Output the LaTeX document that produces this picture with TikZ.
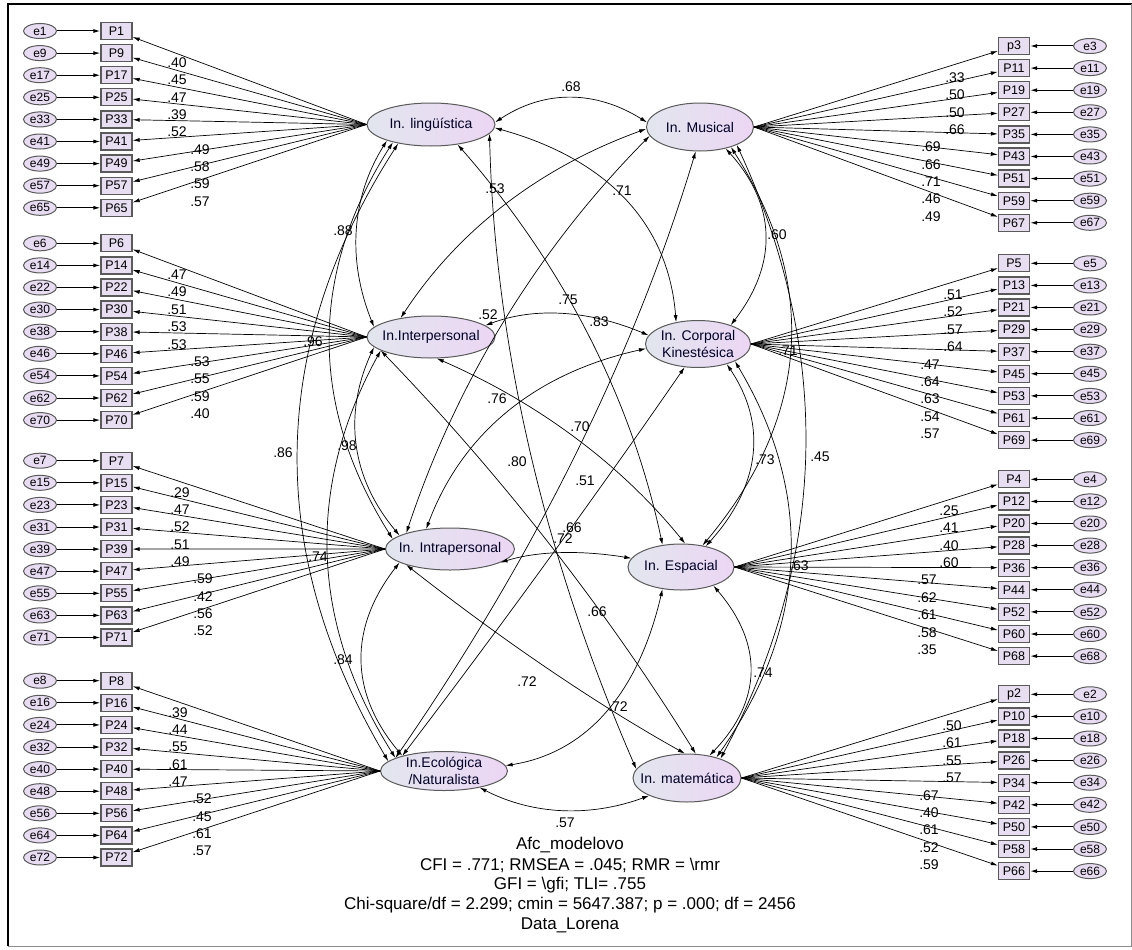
\documentclass[tikz,border=0pt]{standalone}
\usepackage{fontspec}
\setmainfont{Liberation Sans}
\usetikzlibrary{shapes.geometric,arrows.meta,calc}
\definecolor{boxfill}{RGB}{232,222,242}
\definecolor{errfill}{RGB}{232,220,242}
\definecolor{latL}{RGB}{226,230,238}
\definecolor{latR}{RGB}{236,214,244}
\definecolor{edgec}{RGB}{90,90,90}
\tikzset{
 ind/.style={rectangle, draw=edgec, line width=1.3pt, fill=boxfill, minimum width=31pt, minimum height=17pt, inner sep=0pt, font=\fontsize{12.5}{12.5}\selectfont},
 err/.style={ellipse, draw=edgec, line width=1pt, fill=errfill, minimum width=33pt, minimum height=15pt, inner sep=0pt, font=\fontsize{12}{12}\selectfont},
 lat/.style={ellipse, draw=edgec, line width=1pt, left color=latL, right color=latR, inner sep=0pt},
 lattext/.style={font=\fontsize{14}{16.5}\selectfont, align=center, text=black!85!blue, inner sep=0pt},
 reg/.style={line width=0.7pt, -{Latex[length=7pt,width=4pt]}},
 ereg/.style={line width=1pt, -{Latex[length=7pt,width=4pt]}},
 covst/.style={line width=0.7pt, {Latex[length=7pt,width=4pt]}-{Latex[length=7pt,width=4pt]}},
 lbl/.style={font=\fontsize{14}{14}\selectfont, inner sep=0pt},
 fitline/.style={font=\fontsize{17}{17}\selectfont, inner sep=0pt},
}
% #1 factor anchor, #2 y0, #3 box x, #4 err x, #5 label x first, #6 label x rest, #7 count first, #8 list
\newcommand{\mblock}[8]{%
 \foreach \p/\e/\v [count=\k from 0] in {#8} {
   \pgfmathsetmacro{\yy}{#2+22.1*\k}
   \pgfmathsetmacro{\ly}{#2+31.5+17.35*\k}
   \pgfmathsetmacro{\lx}{ifthenelse(\k<#7,#5,#6)}
   \node[ind] (b\p) at (#3,\yy) {\p};
   \node[err] (\e) at (#4,\yy) {\e};
   \draw[ereg] (\e) -- (b\p);
   \draw[reg] (#1) -- (b\p);
   \node[lbl] at (\lx,\ly) {\v};
 }}
% covariance arc: start, end, through point
\newcommand{\cov}[3]{%
  \path (#1) coordinate (qa);
  \path (#2) coordinate (qb);
  \path ($2*(#3)-0.5*(qa)-0.5*(qb)$) coordinate (qq);
  \draw[covst] (#1) .. controls ($(qa)!0.6667!(qq)$) and ($(qb)!0.6667!(qq)$) .. (#2);
}
\begin{document}
\begin{tikzpicture}[x=1pt,y=-1pt]
\useasboundingbox (0,0) rectangle (1132,950);
\fill[white] (0,0) rectangle (1132,950);
\draw[line width=1.5pt] (1132,4) -- (8,4) -- (8,946);
\draw[line width=1pt, black!45] (8,946) -- (1131,946) -- (1131,4);

% latent factors
\node[lat, minimum width=128pt, minimum height=43pt, label={[lattext]center:In. lingüística}] (L) at (431,124.5) {};
\node[lat, minimum width=107pt, minimum height=48pt, label={[lattext]center:In. Musical}] (M) at (700,127) {};
\node[lat, minimum width=128pt, minimum height=42pt, label={[lattext]center:In.Interpersonal}] (I) at (431,337) {};
\node[lat, minimum width=105pt, minimum height=47pt, label={[lattext]center:In. Corporal\\Kinestésica}] (C) at (698,344) {};
\node[lat, minimum width=129pt, minimum height=42pt, label={[lattext]center:In. Intrapersonal}] (A) at (450,549) {};
\node[lat, minimum width=106pt, minimum height=46pt, label={[lattext]center:In. Espacial}] (E) at (681,567) {};
\node[lat, minimum width=127pt, minimum height=39pt, label={[lattext]center:In.Ecológica\\/Naturalista}] (N) at (444,771) {};
\node[lat, minimum width=108pt, minimum height=48pt, label={[lattext]center:In. matemática}] (T) at (687,778) {};

% indicator blocks
\mblock{L.west}{31}{116.5}{40}{177}{200}{5}{P1/e1/.40,P9/e9/.45,P17/e17/.47,P25/e25/.39,P33/e33/.52,P41/e41/.49,P49/e49/.58,P57/e57/.59,P65/e65/.57}
\mblock{I.west}{243.3}{116.5}{40}{177}{200}{5}{P6/e6/.47,P14/e14/.49,P22/e22/.51,P30/e30/.53,P38/e38/.53,P46/e46/.53,P54/e54/.55,P62/e62/.59,P70/e70/.40}
\mblock{A.west}{460.7}{116.5}{40}{180}{203}{5}{P7/e7/.29,P15/e15/.47,P23/e23/.52,P31/e31/.51,P39/e39/.49,P47/e47/.59,P55/e55/.42,P63/e63/.56,P71/e71/.52}
\mblock{N.west}{680.7}{116.5}{40}{178}{202}{5}{P8/e8/.39,P16/e16/.44,P24/e24/.55,P32/e32/.61,P40/e40/.47,P48/e48/.52,P56/e56/.45,P64/e64/.61,P72/e72/.57}
\mblock{M.east}{46}{1014}{1090}{955}{931}{4}{p3/e3/.33,P11/e11/.50,P19/e19/.50,P27/e27/.66,P35/e35/.69,P43/e43/.66,P51/e51/.71,P59/e59/.46,P67/e67/.49}
\mblock{C.east}{263.3}{1014}{1090}{953}{930}{4}{P5/e5/.51,P13/e13/.52,P21/e21/.57,P29/e29/.64,P37/e37/.47,P45/e45/.64,P53/e53/.63,P61/e61/.54,P69/e69/.57}
\mblock{E.east}{479.3}{1014}{1090}{949}{927}{4}{P4/e4/.25,P12/e12/.41,P20/e20/.40,P28/e28/.60,P36/e36/.57,P44/e44/.62,P52/e52/.61,P60/e60/.58,P68/e68/.35}
\mblock{T.east}{694.3}{1014}{1090}{952}{929}{4}{p2/e2/.50,P10/e10/.61,P18/e18/.55,P26/e26/.57,P34/e34/.67,P42/e42/.40,P50/e50/.61,P58/e58/.52,P66/e66/.59}

% covariances: horizontal pairs
\cov{L.2}{M.175}{570,98}
\cov{I.12}{C.170}{563,314}
\cov{A.-15}{E.170}{560,553}
\cov{N.-25}{T.-155}{562,810}
% crossing pairs
\cov{L.-3}{C.135}{625,200}
\cov{L.-37}{E.130}{588,335}
\cov{L.-9}{T.170}{530,450}
\cov{I.148}{M.182}{505,205}
\cov{A.160}{M.190}{505,320}
\cov{A.140}{C.185}{508,412}
\cov{I.-75}{E.80}{575,438}
\cov{I.195}{T.70}{550,545}
\cov{A.-160}{T.95}{550,670}
\cov{N.165}{M.-100}{575,455}
\cov{N.160}{C.-120}{548,560}
\cov{N.5}{E.-130}{605,712}
% left column
\cov{L.200}{I.170}{357,230}
\cov{L.205}{A.170}{330,340}
\cov{L.210}{N.170}{298,450}
\cov{I.190}{A.165}{357,445}
\cov{I.195}{N.165}{328,555}
\cov{A.195}{N.160}{362,660}
% right column
\cov{M.-40}{C.30}{765,235}
\cov{M.-33}{E.45}{790,350}
\cov{M.-26}{T.30}{805,455}
\cov{C.-35}{E.40}{752,455}
\cov{C.-25}{T.35}{790,560}
\cov{E.-30}{T.45}{750,672}

% covariance labels
\foreach \v/\x/\y in {.68/571/87,.53/495/189,.71/622/191,.88/343/231,.60/777/235,.52/488/315,.75/568/300,.83/599/322,.96/313/342,.71/788/351,.76/497/399,.70/580/427,.86/283/453,.98/347/446,.80/517/462,.51/585/481,.73/765/460,.45/820/457,.66/572/528,.72/563/539,.74/318/557,.63/799/566,.66/597/612,.84/343/660,.72/527/682,.72/618/707,.74/763/673,.57/565/823}
  \node[lbl] at (\x,\y) {\v};

% fit summary
\node[fitline] (s1) at (570,845) {Afc\_modelovo};
\node[fitline] (s2) at (570,865) {CFI = .771; RMSEA = .045; RMR = \textbackslash rmr};
\node[fitline] (s3) at (570,885) {GFI = \textbackslash gfi; TLI= .755};
\node[fitline] (s4) at (570,905) {Chi-square/df = 2.299; cmin = 5647.387; p = .000; df = 2456};
\node[fitline] (s5) at (570,925) {Data\_Lorena};
\end{tikzpicture}
\end{document}
